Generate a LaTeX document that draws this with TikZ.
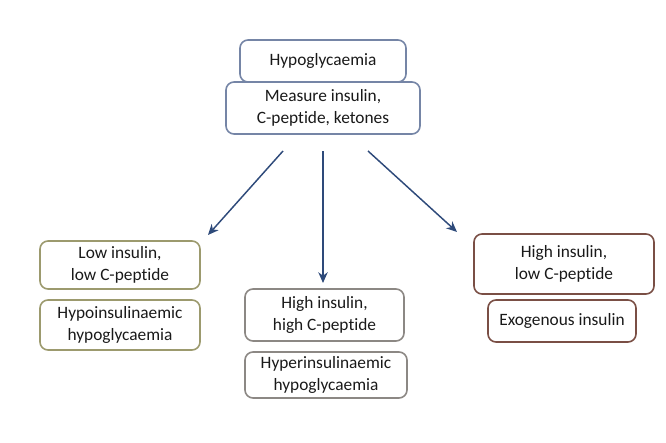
\documentclass[tikz,border=0pt]{standalone}
\usepackage{fontspec}
\setmainfont{Carlito}[Ligatures=NoCommon]
\usepackage{tikz}
\usetikzlibrary{arrows.meta,positioning}
\definecolor{topblue}{HTML}{7585A6}
\definecolor{olivebox}{HTML}{9C9A6E}
\definecolor{greybox}{HTML}{8C8884}
\definecolor{brownbox}{HTML}{7A4F45}
\definecolor{arrowblue}{HTML}{2E4A7A}

\begin{document}
\begin{tikzpicture}[
    x=0.75pt, y=-0.75pt,
    every node/.style={font=\fontsize{13}{17}\selectfont, text=black!90, align=center},
    box/.style={draw, rounded corners=6pt, line width=1.2pt, inner sep=2pt},
    topbox/.style={box, draw=topblue},
    lowbox/.style={box, draw=olivebox},
    midbox/.style={box, draw=greybox},
    exobox/.style={box, draw=brownbox},
    link/.style={->, draw=arrowblue, line width=1.1pt,
      >={Stealth[length=8pt,width=7pt,inset=2.5pt]}}
  ]
    \useasboundingbox (0,0) rectangle (666,442);

    %------------------ Top: start ------------------%
    \node[topbox, minimum width=124.5pt, minimum height=31.5pt] (hypo) at (323,61) {Hypoglycaemia};
    \node[topbox, fill=white, minimum width=145.5pt, minimum height=39pt] (measure) at (323,108)
      {Measure insulin,\\C-peptide, ketones};

    %------------------ Left branch ------------------%
    \node[lowbox, minimum width=120pt, minimum height=36pt] (lowlow) at (120,265)
      {Low insulin,\\low C-peptide};
    \node[lowbox, minimum width=120pt, minimum height=37.5pt] (hypoins) at (120,325)
      {Hypoinsulinaemic\\hypoglycaemia};

    %------------------ Middle branch ------------------%
    \node[midbox, minimum width=119.25pt, minimum height=39pt] (highhigh) at (324.5,315)
      {High insulin,\\high C-peptide};
    \node[midbox, minimum width=121.5pt, minimum height=34.5pt] (hyperins) at (326,375)
      {Hyperinsulinaemic\\hypoglycaemia};

    %------------------ Right branch ------------------%
    \node[exobox, minimum width=135pt, minimum height=45pt] (highlow) at (564,264)
      {High insulin,\\low C-peptide};
    \node[exobox, minimum width=111pt, minimum height=31.5pt] (exog) at (562,321)
      {Exogenous insulin};

    % Arrow ends
    \coordinate (sl) at (283,151);
    \coordinate (sm) at (323,151);
    \coordinate (sr) at (368,151);
    \coordinate (el) at (208,235);
    \coordinate (em) at (323,283);
    \coordinate (er) at (457,232);

    % Arrows
    \draw[link] (sl) -- (el);
    \draw[link] (sm) -- (em);
    \draw[link] (sr) -- (er);
\end{tikzpicture}
\end{document}
